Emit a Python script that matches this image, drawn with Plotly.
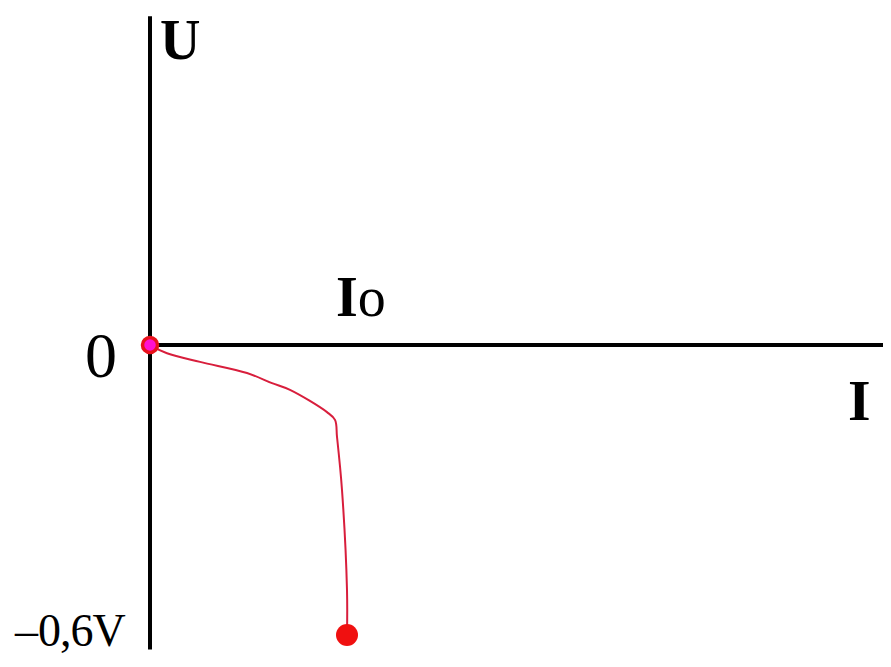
import plotly.graph_objects as go

# Axis extents (data units: current I, voltage U in volts)
axis_x = [0.0, 7.35]
axis_y_top = 0.68
axis_y_bottom = -0.63

# Diode curve
curve_i = [0.0, 0.03, 0.17, 0.50, 0.97, 1.22, 1.40, 1.77, 1.85, 1.87, 1.92, 1.97, 1.97]
curve_u = [0.0, -0.004, -0.017, -0.035, -0.058, -0.079, -0.093, -0.139, -0.155, -0.19, -0.30, -0.507, -0.60]

io_value = 1.97
u_min = -0.6

fig = go.Figure()

# coordinate axes
fig.add_trace(go.Scatter(x=axis_x, y=[0, 0], mode="lines",
                         line=dict(color="black", width=4), hoverinfo="skip"))
fig.add_trace(go.Scatter(x=[0, 0], y=[axis_y_bottom, axis_y_top], mode="lines",
                         line=dict(color="black", width=4), hoverinfo="skip"))

# curve
fig.add_trace(go.Scatter(x=curve_i, y=curve_u, mode="lines",
                         line=dict(color="#d81e3c", width=2), line_shape="spline"))

# end points
fig.add_trace(go.Scatter(x=[0], y=[0], mode="markers",
                         marker=dict(color="#ff10d0", size=15,
                                     line=dict(color="#e8101a", width=3.5))))
fig.add_trace(go.Scatter(x=[curve_i[-1]], y=[curve_u[-1]], mode="markers",
                         marker=dict(color="#f01010", size=22)))

serif = "Liberation Serif"
fig.add_annotation(x=0.30, y=0.63, text="<b>U</b>", showarrow=False,
                   font=dict(family=serif, size=56, color="black"))
fig.add_annotation(x=-0.49, y=-0.022, text="0", showarrow=False,
                   font=dict(family=serif, size=64, color="black"))
fig.add_annotation(x=io_value + 0.14, y=0.10, text="<b>I</b>o", showarrow=False,
                   font=dict(family=serif, size=56, color="black"))
fig.add_annotation(x=7.09, y=-0.115, text="<b>I</b>", showarrow=False,
                   font=dict(family=serif, size=58, color="black"))
fig.add_annotation(x=-0.80, y=u_min + 0.01, text="\u2013<span style='letter-spacing:-1px'>0,6V</span>",
                   showarrow=False, font=dict(family=serif, size=46, color="black"))

# the page body adds an 8px offset, so ranges are shifted to compensate
fig.update_layout(
    width=891, height=667,
    margin=dict(l=0, r=0, t=0, b=0),
    paper_bgcolor="white", plot_bgcolor="white",
    showlegend=False,
    xaxis=dict(range=[-1.42, 7.49], visible=False, fixedrange=True),
    yaxis=dict(range=[-0.6828, 0.6972], visible=False, fixedrange=True),
)

fig.write_html("out.html")
